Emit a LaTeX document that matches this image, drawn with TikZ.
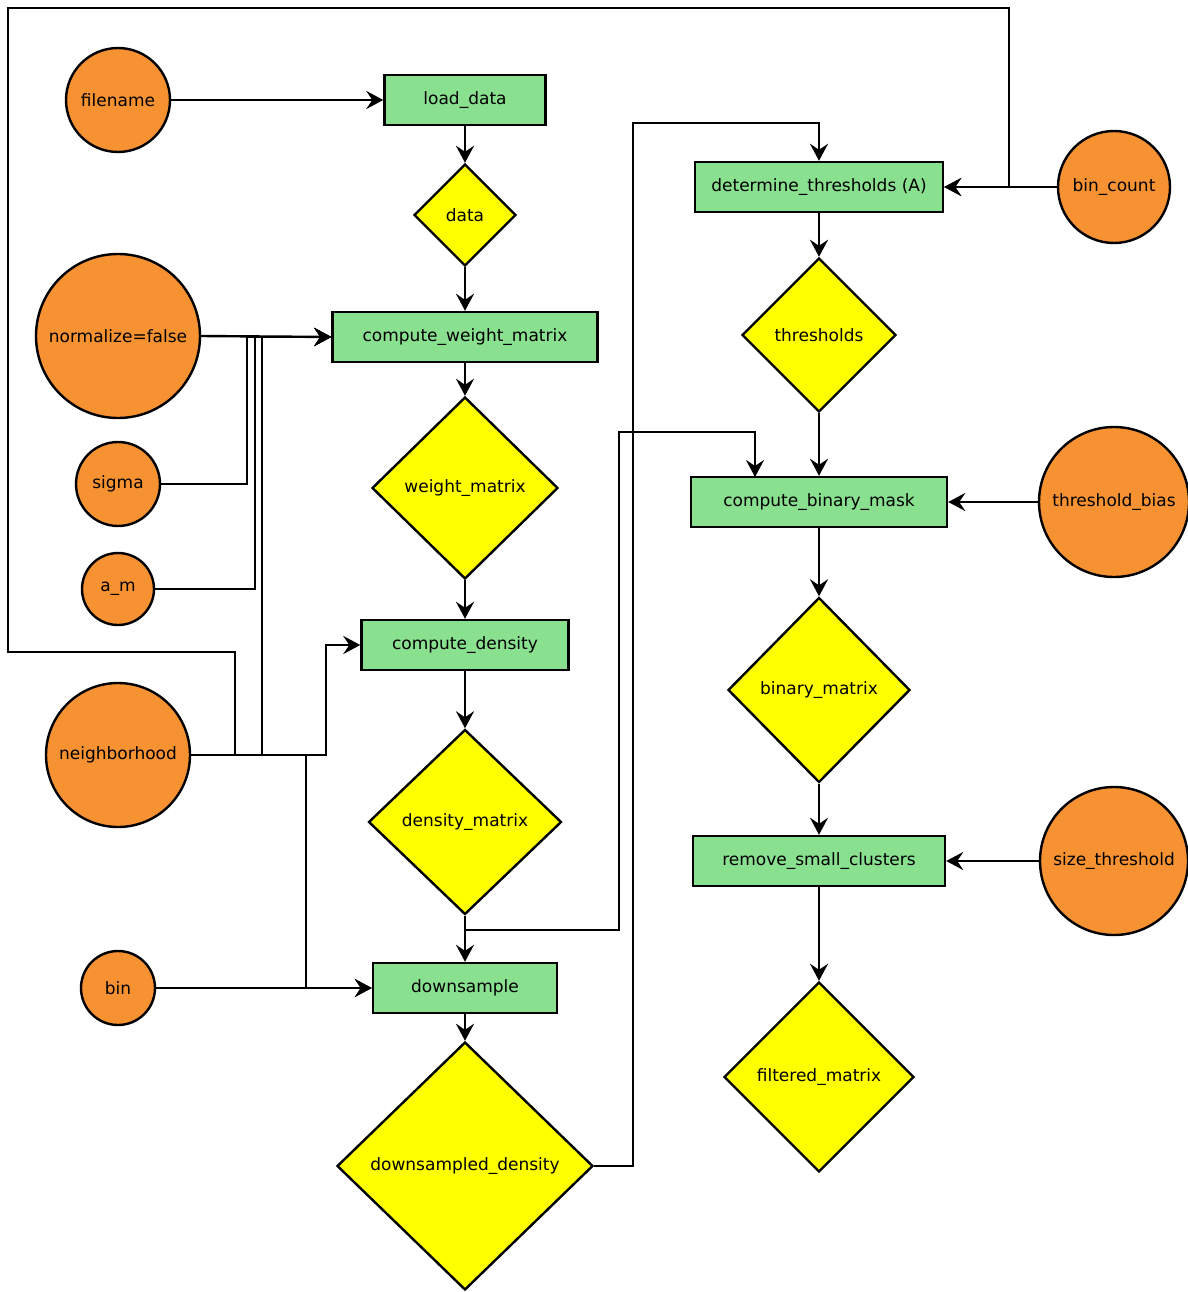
\documentclass[tikz,border=0pt]{standalone}
\usepackage{fontspec}
\setmainfont{DejaVu Sans}
\usetikzlibrary{shapes.geometric,arrows.meta}
\definecolor{corange}{RGB}{247,146,50}
\definecolor{cgreen}{RGB}{137,224,143}
\definecolor{cyellow}{RGB}{255,255,0}
\begin{document}
\begin{tikzpicture}[x=1pt,y=-1pt,
  every node/.style={font=\fontsize{17}{19}\selectfont, inner sep=0pt, line width=2.4pt, draw=black},
  param/.style={circle, fill=corange},
  proc/.style={rectangle, fill=cgreen},
  datum/.style={diamond, fill=cyellow, aspect=1},
  arr/.style={line width=2.4pt, -{Stealth[length=17pt,width=18pt,inset=6pt]}},
  ln/.style={line width=2.4pt}]
\useasboundingbox (0,0) rectangle (1187,1292);
% left column inputs
\node[param, minimum size=104pt] (fn) at (118,100) {filename};
\node[param, minimum size=164pt] (norm) at (118,336) {normalize=false};
\node[param, minimum size=84pt] (sig) at (118,484) {sigma};
\node[param, minimum size=72pt] (am) at (118,589) {a\_m};
\node[param, minimum size=144pt] (nbh) at (118,755) {neighborhood};
\node[param, minimum size=74pt] (bin) at (118,988) {bin};
% middle column
\node[proc, minimum width=161pt, minimum height=50pt] (ld) at (465,100) {load\_data};
\node[datum, minimum width=102pt, minimum height=102pt] (dat) at (465,215) {data};
\node[proc, minimum width=265pt, minimum height=50pt] (cwm) at (465,337) {compute\_weight\_matrix};
\node[datum, minimum width=186pt, minimum height=182pt] (wm) at (465,488) {weight\_matrix};
\node[proc, minimum width=207pt, minimum height=50pt] (cd) at (465,645) {compute\_density};
\node[datum, minimum width=193pt, minimum height=185pt] (dm) at (465,822) {density\_matrix};
\node[proc, minimum width=184pt, minimum height=50pt] (ds) at (465,988) {downsample};
\node[datum, minimum width=256pt, minimum height=248pt] (dsd) at (465,1166) {downsampled\_density};
% right column
\node[proc, minimum width=248pt, minimum height=50pt] (det) at (819,187) {determine\_thresholds (A)};
\node[datum, minimum width=154pt, minimum height=154pt] (thr) at (819,335) {thresholds};
\node[proc, minimum width=256pt, minimum height=50pt] (cbm) at (819,502) {compute\_binary\_mask};
\node[datum, minimum width=182pt, minimum height=185pt] (bm) at (819,690) {binary\_matrix};
\node[proc, minimum width=252pt, minimum height=50pt] (rsc) at (819,861) {remove\_small\_clusters};
\node[datum, minimum width=190pt, minimum height=190pt] (fm) at (819,1077) {filtered\_matrix};
% right inputs
\node[param, minimum size=112pt] (bc) at (1114,187) {bin\_count};
\node[param, minimum size=150pt] (tb) at (1114,502) {threshold\_bias};
\node[param, minimum size=148pt] (st) at (1114,861) {size\_threshold};
% helper coordinates
\coordinate (js) at (247,337);
\coordinate (ja) at (255,337);
\coordinate (jn) at (262,337);
\coordinate (jc) at (326,645);
\coordinate (jd) at (306,988);
\coordinate (f1) at (235,652);
\coordinate (f2) at (8,8);
\coordinate (f3) at (1009,187);
\coordinate (br) at (465,930);
\coordinate (b1) at (619,432);
\coordinate (b2) at (755,477);
\coordinate (d1) at (633,123);
% main chain
\draw[arr] (fn) -- (ld);
\draw[arr] (ld) -- (dat);
\draw[arr] (dat) -- (cwm);
\draw[arr] (cwm) -- (wm);
\draw[arr] (wm) -- (cd);
\draw[arr] (cd) -- (dm);
\draw[arr] (dm) -- (ds);
\draw[arr] (ds) -- (dsd);
\draw[arr] (det) -- (thr);
\draw[arr] (thr) -- (cbm);
\draw[arr] (cbm) -- (bm);
\draw[arr] (bm) -- (rsc);
\draw[arr] (rsc) -- (fm);
% parameters
\draw[arr] (norm.east) -- (cwm.west);
\draw[arr] (sig.east) -| (js) -- (cwm.west);
\draw[arr] (am.east) -| (ja) -- (cwm.west);
\draw[arr] (nbh.east) -| (jn) -- (cwm.west);
\draw[arr] (nbh.east) -| (jc) -- (cd.west);
\draw[arr] (nbh.east) -| (jd) -- (ds.west);
\draw[arr] (bin.east) -- (ds.west);
\draw[arr] (nbh.east) -| (f1) -| (f2) -| (f3) -- (det.east);
\draw[arr] (bc.west) -- (det.east);
\draw[arr] (tb.west) -- (cbm.east);
\draw[arr] (st.west) -- (rsc.east);
% cross links
\draw[arr] (br) -| (b1) -| (b2);
\draw[arr] (dsd.east) -| (d1) -| (det.north);
\end{tikzpicture}
\end{document}
